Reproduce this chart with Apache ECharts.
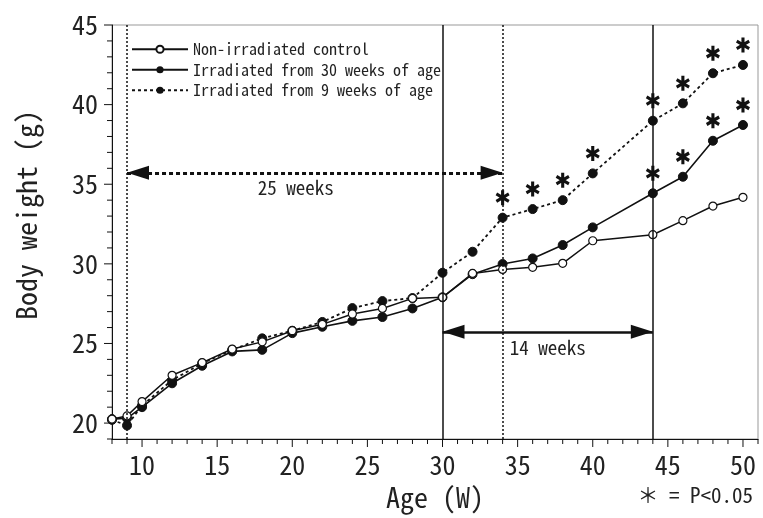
<!DOCTYPE html>
<html>
<head>
<meta charset="utf-8">
<script src="https://cdn.jsdelivr.net/npm/echarts@6/dist/echarts.min.js"></script>
<style>html,body{margin:0;padding:0;background:#fff}#c{width:763px;height:518px}</style>
</head>
<body>
<div id="c"></div>
<script>
// ---- data ----
const weeks = [8, 9, 10, 12, 14, 16, 18, 20, 22, 24, 26, 28, 30, 32, 34, 36, 38, 40, 44, 46, 48, 50];
const control = [20.25, 20.45, 21.35, 23.0, 23.8, 24.65, 25.1, 25.8, 26.2, 26.85, 27.2, 27.83, 27.9, 29.4, 29.65, 29.78, 30.03, 31.45, 31.83, 32.71, 33.63, 34.18];
const irr30 = [20.25, 20.3, 21.0, 22.5, 23.6, 24.5, 24.6, 25.65, 26.05, 26.42, 26.66, 27.2, 27.9, 29.35, 29.99, 30.34, 31.18, 32.29, 34.43, 35.47, 37.73, 38.72];
const irr9 = [20.2, 19.85, 21.1, 22.7, 23.75, 24.6, 25.32, 25.8, 26.35, 27.22, 27.66, 27.85, 29.44, 30.76, 32.9, 33.44, 34.0, 35.68, 38.99, 40.08, 41.97, 42.49];
const seriesNames = ['Non-irradiated control', 'Irradiated from 30 weeks of age', 'Irradiated from 9 weeks of age'];
const sigWeeksIrr9 = [34, 36, 38, 40, 44, 46, 48, 50];
const sigWeeksIrr30 = [44, 46, 48, 50];
const dottedLines = [9, 34];
const solidLines = [30, 44];
const arrow25 = {from: 9, to: 34, y: 35.72, text: '25 weeks'};
const arrow14 = {from: 30, to: 44, y: 25.73, text: '14 weeks'};
const xTickLabels = [10, 15, 20, 25, 30, 35, 40, 45, 50];
const yTickLabels = [20, 25, 30, 35, 40, 45];
const X_MIN = 8, X_MAX = 51, Y_MIN = 19, Y_MAX = 45;

const FONT = "'Noto Sans Mono CJK JP', 'Noto Sans CJK JP', 'DejaVu Sans Mono', monospace";
const INK = '#111';
const GRID = {left: 112, right: 5, top: 25, bottom: 79};
const STAR = 'path://M-1.5,-7L1.5,-7L1.5,7L-1.5,7Z M5.312,-4.799L6.812,-2.201L-5.312,4.799L-6.812,2.201Z M6.812,2.201L5.312,4.799L-6.812,-2.201L-5.312,-4.799Z';

const pairs = arr => weeks.map((w, i) => [w, arr[i]]);
const pick = (arr, ws) => ws.map(w => [w, arr[weeks.indexOf(w)]]);

const chart = echarts.init(document.getElementById('c'), null, {renderer: 'canvas'});

const starSeries = (name, d) => ({
  name: name, type: 'scatter', data: d, silent: true, z: 5,
  symbol: STAR, symbolSize: [14, 15], symbolOffset: [0, -20],
  itemStyle: {color: INK, opacity: 1}
});

// tick-mark axes: each tick drawn as a label box of the axis itself
const tickXAxis = {
  type: 'value', min: X_MIN, max: X_MAX, interval: 1, position: 'bottom',
  axisLine: {show: false}, axisTick: {show: false}, splitLine: {show: false},
  axisLabel: {show: true, interval: 0, margin: 0, showMinLabel: true, showMaxLabel: true, hideOverlap: false,
    verticalAlign: 'top',
    formatter: v => xTickLabels.indexOf(v) >= 0 ? '{L|}' : '{S|}',
    rich: {L: {width: 1, height: 8, lineHeight: 8, backgroundColor: INK}, S: {width: 1, height: 5, lineHeight: 5, backgroundColor: INK}}}
};
const tickYAxis = {
  type: 'value', min: Y_MIN, max: Y_MAX, interval: 1, position: 'left',
  axisLine: {show: false}, axisTick: {show: false}, splitLine: {show: false},
  axisLabel: {show: true, interval: 0, margin: 0, showMinLabel: true, showMaxLabel: true, hideOverlap: false,
    align: 'right',
    formatter: v => yTickLabels.indexOf(v) >= 0 ? '{L|}' : '{S|}',
    rich: {L: {width: 8, height: 1, lineHeight: 1, backgroundColor: INK}, S: {width: 5, height: 1, lineHeight: 1, backgroundColor: INK}}}
};

const option = {
  animation: false,
  backgroundColor: '#fff',
  textStyle: {fontFamily: FONT},
  grid: Object.assign({show: true, borderColor: '#999', borderWidth: 1, backgroundColor: 'transparent'}, GRID),
  legend: {
    data: seriesNames, orient: 'vertical', left: 126, top: 34,
    itemWidth: 56, itemHeight: 9, itemGap: 0,
    textStyle: {fontFamily: FONT, fontSize: 16, lineHeight: 20.5, color: '#222'}
  },
  xAxis: [{
    type: 'value', min: X_MIN, max: X_MAX, interval: 1,
    name: 'Age (W)', nameLocation: 'middle', nameGap: 40,
    nameTextStyle: {fontFamily: FONT, fontSize: 28, color: '#222'},
    axisLine: {show: true, onZero: false, lineStyle: {color: INK, width: 1}},
    axisTick: {show: false},
    axisLabel: {show: true, interval: 0, margin: 13, fontFamily: FONT, fontSize: 26, color: '#222',
      formatter: v => xTickLabels.indexOf(v) >= 0 ? String(v) : ''},
    splitLine: {show: false}
  }, tickXAxis],
  yAxis: [{
    type: 'value', min: Y_MIN, max: Y_MAX, interval: 1,
    name: 'Body weight (g)', nameLocation: 'middle', nameGap: 72, nameRotate: 90,
    nameTextStyle: {fontFamily: FONT, fontSize: 28, color: '#222', padding: [0, 0, 0, 34]},
    axisLine: {show: true, onZero: false, lineStyle: {color: INK, width: 1}},
    axisTick: {show: false},
    axisLabel: {show: true, interval: 0, margin: 14, fontFamily: FONT, fontSize: 26, color: '#222',
      formatter: v => yTickLabels.indexOf(v) >= 0 ? String(v) : ''},
    splitLine: {show: false}
  }, tickYAxis],
  series: [
    {
      name: seriesNames[0], type: 'line', data: pairs(control), z: 4,
      symbol: 'circle', symbolSize: 8, showAllSymbol: true,
      itemStyle: {color: '#fff', borderColor: INK, borderWidth: 1.2},
      lineStyle: {color: INK, width: 1.5}
    },
    {
      name: seriesNames[1], type: 'line', data: pairs(irr30), z: 3,
      symbol: 'circle', symbolSize: 9, showAllSymbol: true,
      itemStyle: {color: INK, borderColor: INK},
      lineStyle: {color: INK, width: 1.6}
    },
    {
      name: seriesNames[2], type: 'line', data: pairs(irr9), z: 3,
      symbol: 'circle', symbolSize: 9, showAllSymbol: true,
      itemStyle: {color: INK, borderColor: INK},
      lineStyle: {color: INK, width: 1.8, type: [3, 3]},
      markLine: {
        silent: true, symbol: 'none', animation: false,
        label: {show: false},
        data: [
          ...dottedLines.map(x => ({xAxis: x, lineStyle: {color: INK, width: 1.5, type: [2, 2]}})),
          ...solidLines.map(x => ({xAxis: x, lineStyle: {color: INK, width: 1.5, type: 'solid'}})),
          [
            {coord: [arrow25.from, arrow25.y], symbol: 'triangle', symbolSize: [14, 22], symbolOffset: [0, 11],
              lineStyle: {color: INK, width: 3, type: [4, 3]},
              label: {show: true, position: 'insideMiddleBottom', formatter: arrow25.text, fontFamily: FONT, fontSize: 19, color: '#222', distance: 6, offset: [-19, 0]}},
            {coord: [arrow25.to, arrow25.y], symbol: 'triangle', symbolSize: [14, 22], symbolOffset: [0, 11]}
          ],
          [
            {coord: [arrow14.from, arrow14.y], symbol: 'triangle', symbolSize: [14, 22], symbolOffset: [0, 11],
              lineStyle: {color: INK, width: 2.5, type: 'solid'},
              label: {show: true, position: 'insideMiddleBottom', formatter: arrow14.text, fontFamily: FONT, fontSize: 19, color: '#222', distance: 6}},
            {coord: [arrow14.to, arrow14.y], symbol: 'triangle', symbolSize: [14, 22], symbolOffset: [0, 11]}
          ]
        ]
      }
    },
    starSeries('sig9', pick(irr9, sigWeeksIrr9)),
    starSeries('sig30', pick(irr30, sigWeeksIrr30))
  ],
  graphic: [
    {id: 'sig', type: 'text', right: 10, bottom: 12, style: {text: '＊ = P<0.05', font: '21px ' + FONT, fill: '#222'}}
  ]
};
chart.setOption(option);
</script>
</body>
</html>
